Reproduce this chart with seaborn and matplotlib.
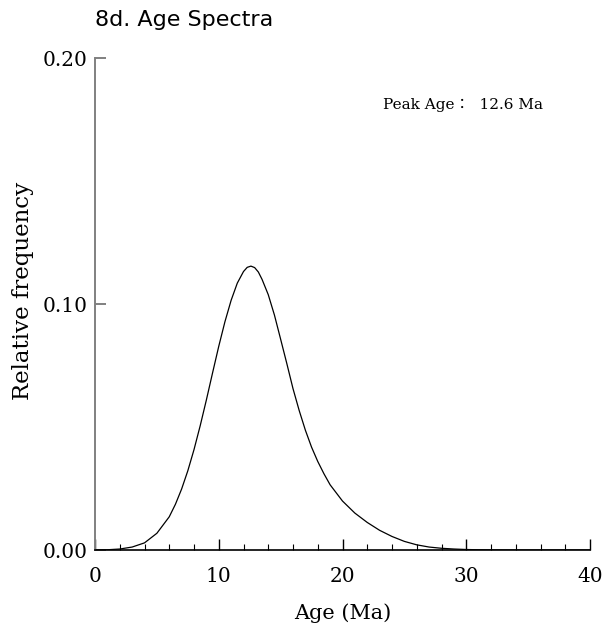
import matplotlib
matplotlib.use("Agg")
import matplotlib.pyplot as plt
import seaborn as sns
import pandas as pd
from matplotlib.ticker import MultipleLocator

# Data (age in Ma, relative frequency)
ages = [0, 1, 2, 3, 4, 5, 6, 6.5, 7, 7.5, 8, 8.5, 9, 9.5, 10, 10.5, 11, 11.5,
        12, 12.3, 12.6, 12.9, 13.2, 13.5, 14, 14.5, 15, 15.5, 16, 16.5, 17, 17.5,
        18, 18.5, 19, 20, 21, 22, 23, 24, 25, 26, 27, 28, 29, 30, 31, 32, 34, 36, 38, 40]
freq = [0.0000, 0.0001, 0.0004, 0.0012, 0.0029, 0.0068, 0.0135, 0.0186, 0.0248,
        0.0322, 0.0408, 0.0505, 0.0610, 0.0720, 0.0828, 0.0928, 0.1015, 0.1085,
        0.1132, 0.1149, 0.1154, 0.1148, 0.1130, 0.1100, 0.1038, 0.0955, 0.0857,
        0.0758, 0.0656, 0.0567, 0.0487, 0.0418, 0.0360, 0.0310, 0.0265, 0.0199,
        0.0150, 0.0112, 0.0080, 0.0055, 0.0035, 0.0021, 0.0012, 0.0007, 0.0004,
        0.0002, 0.0001, 0.00005, 0.0, 0.0, 0.0, 0.0]
x_ticks = [0, 10, 20, 30, 40]
y_ticks = [0.00, 0.10, 0.20]
y_tick_labels = ["0.00", "0.10", "0.20"]
title = "8d. Age Spectra"
peak_label = "Peak Age：  12.6 Ma"

df = pd.DataFrame({"age": ages, "freq": freq})

sns.set_style("white")
plt.rcParams["font.family"] = ["DejaVu Serif", "Noto Sans CJK JP"]
plt.rcParams["text.color"] = "black"
plt.rcParams["axes.labelcolor"] = "black"
plt.rcParams["xtick.labelcolor"] = "black"
plt.rcParams["ytick.labelcolor"] = "black"

fig = plt.figure(figsize=(6.02, 6.35), dpi=100)
ax = fig.add_axes([95 / 602, 1 - 550 / 635, 495 / 602, 492 / 635])

sns.lineplot(data=df, x="age", y="freq", ax=ax, color="black", lw=0.9)

ax.set_xlim(0, 40)
ax.set_ylim(0, 0.20)
ax.set_xticks(x_ticks)
ax.xaxis.set_minor_locator(MultipleLocator(2))
ax.set_yticks(y_ticks)
ax.set_yticklabels(y_tick_labels)

for s in ["top", "right"]:
    ax.spines[s].set_visible(False)
ax.spines["left"].set_color("#808080")
ax.spines["left"].set_linewidth(1.4)
ax.spines["bottom"].set_color("black")
ax.spines["bottom"].set_linewidth(1.2)

ax.tick_params(axis="x", which="major", direction="in", length=8, width=1,
               color="black", labelcolor="black", labelsize=14.5, pad=12, bottom=True)
ax.tick_params(axis="x", which="minor", direction="in", length=4.3, width=0.8,
               color="black", bottom=True)
ax.tick_params(axis="y", which="major", direction="in", length=8, width=1.4,
               color="#808080", labelcolor="black", labelsize=14.5, pad=5.5, left=True)

ax.set_xlabel("Age (Ma)", fontsize=15, labelpad=13, color="black")
ax.set_ylabel("Relative frequency", fontsize=16.5, color="black")
ax.yaxis.set_label_coords(-0.124, 0.527)

ax.text(383 / 602, 1 - 105 / 635, peak_label, transform=fig.transFigure,
        fontsize=11, ha="left", va="center", color="black")

fig.text(95 / 602, 1 - 20 / 635, title, fontsize=16, color="black",
         family=["DejaVu Sans"], ha="left", va="center")

fig.savefig("out.png", dpi=100, facecolor="white")
